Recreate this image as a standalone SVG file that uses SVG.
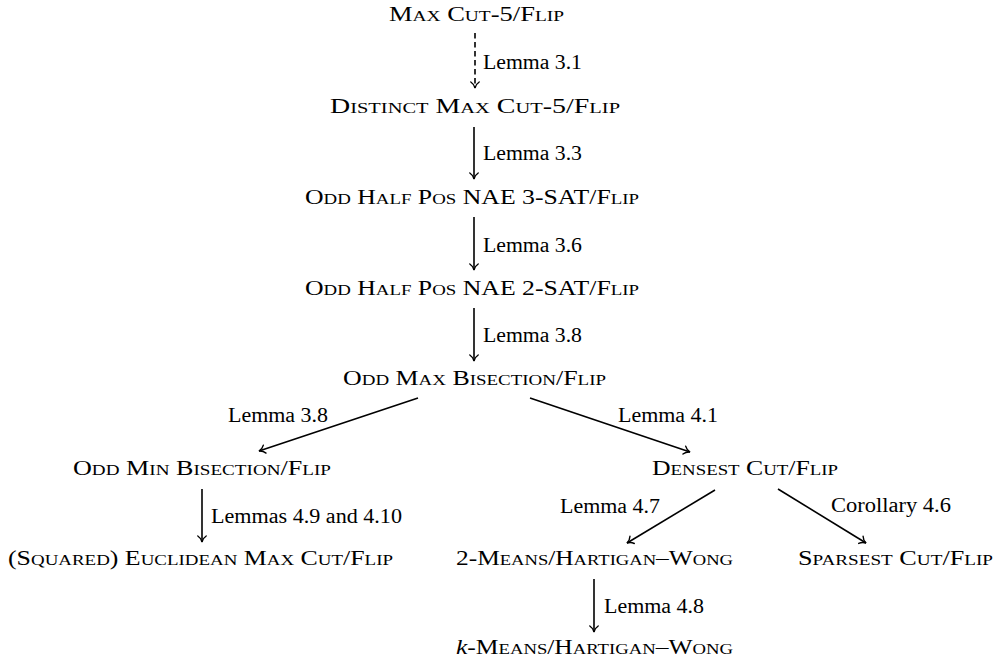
<svg xmlns="http://www.w3.org/2000/svg" width="999" height="664" viewBox="0 0 999 664">
<style>
.n{font-family:"Liberation Serif","DejaVu Serif",serif;font-size:20.5px;font-variant:small-caps;fill:#000}
.n .s{font-size:21.5px}
.n .k{font-style:italic;font-variant:normal}
.l{font-family:"Liberation Serif","DejaVu Serif",serif;font-size:20.5px;fill:#000}
.e{fill:none;stroke:#000;stroke-width:1.6}
.d{stroke-dasharray:5.5 3.5}
</style>
<defs>
<marker id="ah" markerUnits="userSpaceOnUse" viewBox="-8 -6 10 12" markerWidth="10" markerHeight="12" refX="0" refY="0" orient="auto" overflow="visible">
<path d="M -6,-4.2 C -4.2,-1.4 -1.2,-0.3 0,0 C -1.2,0.3 -4.2,1.4 -6,4.2" fill="none" stroke="#000" stroke-width="1.4" stroke-linecap="round"/>
</marker>
</defs>
<rect width="999" height="664" fill="#fff"/>
<g id="connectors">
<line class="e d" x1="475" y1="33" x2="475" y2="88" marker-end="url(#ah)"/>
<line class="e" x1="474" y1="127" x2="474" y2="179" marker-end="url(#ah)"/>
<line class="e" x1="474" y1="217" x2="474" y2="270" marker-end="url(#ah)"/>
<line class="e" x1="474" y1="308" x2="474" y2="361" marker-end="url(#ah)"/>
<line class="e" x1="418" y1="398" x2="259" y2="451" marker-end="url(#ah)"/>
<line class="e" x1="530" y1="398" x2="690" y2="452" marker-end="url(#ah)"/>
<line class="e" x1="202" y1="489" x2="202" y2="542" marker-end="url(#ah)"/>
<line class="e" x1="715" y1="490" x2="627" y2="543" marker-end="url(#ah)"/>
<line class="e" x1="778" y1="489" x2="866" y2="543" marker-end="url(#ah)"/>
<line class="e" x1="594" y1="579" x2="594" y2="632" marker-end="url(#ah)"/>
<text class="l" x="483" y="69" textLength="99" lengthAdjust="spacingAndGlyphs">Lemma 3.1</text>
<text class="l" x="483" y="160" textLength="99" lengthAdjust="spacingAndGlyphs">Lemma 3.3</text>
<text class="l" x="483" y="252" textLength="99" lengthAdjust="spacingAndGlyphs">Lemma 3.6</text>
<text class="l" x="483" y="342" textLength="99" lengthAdjust="spacingAndGlyphs">Lemma 3.8</text>
<text class="l" x="228" y="422" textLength="100" lengthAdjust="spacingAndGlyphs">Lemma 3.8</text>
<text class="l" x="618" y="422" textLength="100" lengthAdjust="spacingAndGlyphs">Lemma 4.1</text>
<text class="l" x="211" y="523" textLength="191" lengthAdjust="spacingAndGlyphs">Lemmas 4.9 and 4.10</text>
<text class="l" x="560" y="513" textLength="100" lengthAdjust="spacingAndGlyphs">Lemma 4.7</text>
<text class="l" x="831" y="512" textLength="120" lengthAdjust="spacingAndGlyphs">Corollary 4.6</text>
<text class="l" x="604" y="613" textLength="100" lengthAdjust="spacingAndGlyphs">Lemma 4.8</text>
</g>
<g id="n1"><text class="n" x="389" y="21" textLength="175" lengthAdjust="spacingAndGlyphs">M<tspan class="s">ax</tspan> C<tspan class="s">ut</tspan>-5/F<tspan class="s">lip</tspan></text></g>
<g id="n2"><text class="n" x="330" y="113" textLength="290" lengthAdjust="spacingAndGlyphs">D<tspan class="s">istinct</tspan> M<tspan class="s">ax</tspan> C<tspan class="s">ut</tspan>-5/F<tspan class="s">lip</tspan></text></g>
<g id="n3"><text class="n" x="305" y="204" textLength="334" lengthAdjust="spacingAndGlyphs">O<tspan class="s">dd</tspan> H<tspan class="s">alf</tspan> P<tspan class="s">os</tspan> NAE 3-SAT/F<tspan class="s">lip</tspan></text></g>
<g id="n4"><text class="n" x="305" y="295" textLength="334" lengthAdjust="spacingAndGlyphs">O<tspan class="s">dd</tspan> H<tspan class="s">alf</tspan> P<tspan class="s">os</tspan> NAE 2-SAT/F<tspan class="s">lip</tspan></text></g>
<g id="n5"><text class="n" x="343" y="385" textLength="263" lengthAdjust="spacingAndGlyphs">O<tspan class="s">dd</tspan> M<tspan class="s">ax</tspan> B<tspan class="s">isection</tspan>/F<tspan class="s">lip</tspan></text></g>
<g id="n6"><text class="n" x="73" y="475" textLength="258" lengthAdjust="spacingAndGlyphs">O<tspan class="s">dd</tspan> M<tspan class="s">in</tspan> B<tspan class="s">isection</tspan>/F<tspan class="s">lip</tspan></text></g>
<g id="n7"><text class="n" x="8" y="565" textLength="385" lengthAdjust="spacingAndGlyphs">(S<tspan class="s">quared</tspan>) E<tspan class="s">uclidean</tspan> M<tspan class="s">ax</tspan> C<tspan class="s">ut</tspan>/F<tspan class="s">lip</tspan></text></g>
<g id="n8"><text class="n" x="652" y="475" textLength="186" lengthAdjust="spacingAndGlyphs">D<tspan class="s">ensest</tspan> C<tspan class="s">ut</tspan>/F<tspan class="s">lip</tspan></text></g>
<g id="n9"><text class="n" x="456" y="565" textLength="277" lengthAdjust="spacingAndGlyphs">2-M<tspan class="s">eans</tspan>/H<tspan class="s">artigan</tspan>–W<tspan class="s">ong</tspan></text></g>
<g id="n10"><text class="n" x="798" y="565" textLength="195" lengthAdjust="spacingAndGlyphs">S<tspan class="s">parsest</tspan> C<tspan class="s">ut</tspan>/F<tspan class="s">lip</tspan></text></g>
<g id="n11"><text class="n" x="456" y="654" textLength="277" lengthAdjust="spacingAndGlyphs"><tspan class="k">k</tspan>-M<tspan class="s">eans</tspan>/H<tspan class="s">artigan</tspan>–W<tspan class="s">ong</tspan></text></g>
</svg>
